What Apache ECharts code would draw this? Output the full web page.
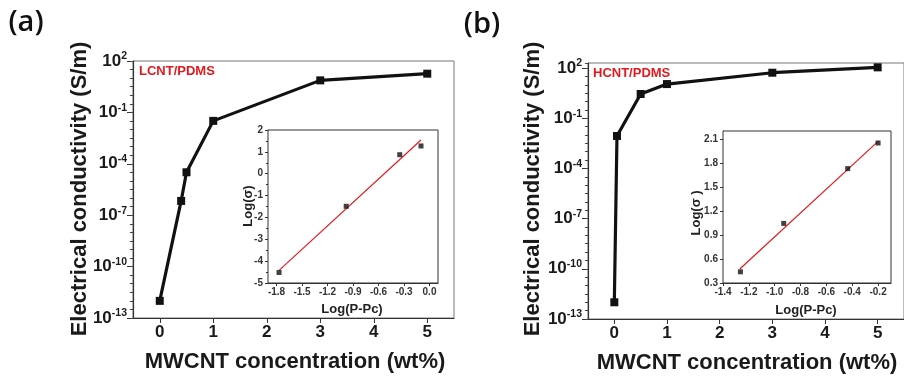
<!DOCTYPE html>
<html>
<head>
<meta charset="utf-8">
<script src="https://cdn.jsdelivr.net/npm/echarts@6/dist/echarts.min.js"></script>
<style>
  html, body { margin: 0; padding: 0; background: #fff; }
  #chart { width: 904px; height: 378px; }
</style>
</head>
<body>
<div id="chart"></div>
<script>
// ---- Conductivity vs. MWCNT loading (S/m) ----
const concA  = [0, 0.4, 0.5, 1, 3, 5];
const sigmaA = [1e-12, 6.8e-7, 3.2e-5, 0.032, 7.4, 18.2];
const concB  = [0, 0.05, 0.5, 1, 3, 5];
const sigmaB = [1e-12, 0.0087, 2.8, 11, 52.5, 110];

// ---- Percolation scaling: Log(sigma) vs Log(P-Pc) ----
const logPPcA   = [-1.77, -0.98, -0.35, -0.10];
const logSigmaA = [-4.52, -1.49, 0.87, 1.27];
const fitXA = [-1.77, -0.10];
const fitYA = [-4.42, 1.54];

const logPPcB   = [-1.265, -0.93, -0.435, -0.20];
const logSigmaB = [0.44, 1.045, 1.73, 2.05];
const fitXB = [-1.27, -0.20];
const fitYB = [0.475, 2.07];

// ---- Tick labels ----
const mainXTicks = [0, 1, 2, 3, 4, 5];
const mainYTicks = [1e-13, 1e-10, 1e-7, 1e-4, 1e-1, 1e2];
const insetAXTicks = [-1.8, -1.5, -1.2, -0.9, -0.6, -0.3, 0];
const insetBXTicks = [-1.4, -1.2, -1.0, -0.8, -0.6, -0.4, -0.2];
const insetBYTicks = [0.3, 0.6, 0.9, 1.2, 1.5, 1.8, 2.1];

const pairs = (xs, ys) => xs.map((x, i) => [x, ys[i]]);

const SANS = '"Liberation Sans", Arial, sans-serif';
const NARROW = '"Liberation Sans Narrow", "Liberation Sans", Arial, sans-serif';
const INK = '#1a1a1a';
const RED = '#e3191e';

function mainX(gridIndex) {
  return {
    type: 'value', gridIndex, min: -0.5, max: 5.5,
    axisLine: { show: true, onZero: false, lineStyle: { color: '#333', width: 1.2 } },
    axisTick: { show: true, inside: false, length: 5, customValues: mainXTicks, lineStyle: { color: '#333' } },
    axisLabel: { customValues: mainXTicks, margin: 6, fontSize: 17, fontWeight: 'bold', fontFamily: SANS, color: INK },
    splitLine: { show: false }
  };
}

function mainY(gridIndex, maxVal) {
  return {
    type: 'log', logBase: 10, gridIndex, position: 'left', min: 1e-13, max: maxVal,
    axisLine: { show: true, onZero: false, lineStyle: { color: '#333', width: 1.2 } },
    axisTick: { show: true, inside: false, length: 6, customValues: mainYTicks, lineStyle: { color: '#333' } },
    axisLabel: {
      customValues: mainYTicks, margin: 6,
      formatter: v => '{b|10}{s|' + Math.round(Math.log10(v)) + '}',
      rich: {
        b: { fontSize: 17, fontWeight: 'bold', fontFamily: SANS, color: INK, lineHeight: 20 },
        s: { fontSize: 10.5, fontWeight: 'bold', fontFamily: SANS, color: INK, verticalAlign: 'top', lineHeight: 12 }
      }
    },
    splitLine: { show: false }
  };
}

// decade sub-ticks drawn on the exponent scale of the same grid
function minorY(gridIndex, maxExp) {
  return {
    type: 'value', gridIndex, position: 'left', offset: 0, min: -13, max: maxExp, interval: 0.5,
    axisLine: { show: false, onZero: false },
    axisTick: { show: true, inside: false, length: 3, lineStyle: { color: '#444' } },
    axisLabel: { show: false },
    splitLine: { show: false }
  };
}

const insetLabel = { fontSize: 10, fontWeight: 'bold', fontFamily: NARROW, color: '#333' };

const option = {
  animation: false,
  backgroundColor: '#fff',
  grid: [
    { left: 133, top: 61, width: 321, height: 257, show: true, borderColor: '#777', borderWidth: 1, backgroundColor: 'transparent' },
    { left: 588, top: 63, width: 318, height: 256, show: true, borderColor: '#777', borderWidth: 1, backgroundColor: 'transparent' },
    { left: 268, top: 130, width: 170, height: 153, show: true, borderColor: '#333', borderWidth: 1, backgroundColor: '#fff', z: 3 },
    { left: 723, top: 131, width: 168, height: 152, show: true, borderColor: '#333', borderWidth: 1, backgroundColor: '#fff', z: 3 }
  ],
  xAxis: [
    mainX(0),
    mainX(1),
    {
      type: 'value', gridIndex: 2, min: -1.9, max: 0.1,
      axisLine: { show: true, onZero: false, lineStyle: { color: '#333' } },
      axisTick: { show: true, length: 3, customValues: insetAXTicks, lineStyle: { color: '#333' } },
      axisLabel: Object.assign({ customValues: insetAXTicks, margin: 4, formatter: v => v.toFixed(1) }, insetLabel),
      splitLine: { show: false }
    },
    {
      type: 'value', gridIndex: 3, min: -1.4, max: -0.1,
      axisLine: { show: true, onZero: false, lineStyle: { color: '#333' } },
      axisTick: { show: true, length: 3, customValues: insetBXTicks, lineStyle: { color: '#333' } },
      axisLabel: Object.assign({ customValues: insetBXTicks, margin: 4, formatter: v => v.toFixed(1) }, insetLabel),
      splitLine: { show: false }
    }
  ],
  yAxis: [
    mainY(0, 100),
    mainY(1, 200),
    {
      type: 'value', gridIndex: 2, min: -5, max: 2, interval: 1,
      axisLine: { show: true, onZero: false, lineStyle: { color: '#333' } },
      axisTick: { show: true, length: 3, lineStyle: { color: '#333' } },
      minorTick: { show: true, splitNumber: 2, length: 2, lineStyle: { color: '#333' } },
      axisLabel: Object.assign({ margin: 5 }, insetLabel),
      splitLine: { show: false }
    },
    {
      type: 'value', gridIndex: 3, min: 0.3, max: 2.2,
      axisLine: { show: true, onZero: false, lineStyle: { color: '#333' } },
      axisTick: { show: true, length: 3, customValues: insetBYTicks, lineStyle: { color: '#333' } },
      axisLabel: Object.assign({ customValues: insetBYTicks, margin: 5, formatter: v => v.toFixed(1) }, insetLabel),
      splitLine: { show: false }
    },
    minorY(0, 2),
    minorY(1, 2.3)
  ],
  series: [
    {
      type: 'line', xAxisIndex: 0, yAxisIndex: 0, data: pairs(concA, sigmaA),
      symbol: 'rect', symbolSize: 8, lineStyle: { color: '#111', width: 3.2 }, itemStyle: { color: '#111' }
    },
    {
      type: 'line', xAxisIndex: 1, yAxisIndex: 1, data: pairs(concB, sigmaB),
      symbol: 'rect', symbolSize: 8, lineStyle: { color: '#111', width: 3.2 }, itemStyle: { color: '#111' }
    },
    {
      type: 'line', xAxisIndex: 2, yAxisIndex: 2, data: pairs(fitXA, fitYA), z: 4,
      symbol: 'none', lineStyle: { color: RED, width: 1.2 }
    },
    {
      type: 'scatter', xAxisIndex: 2, yAxisIndex: 2, data: pairs(logPPcA, logSigmaA), z: 5,
      symbol: 'rect', symbolSize: 5, itemStyle: { color: '#111' }
    },
    {
      type: 'line', xAxisIndex: 3, yAxisIndex: 3, data: pairs(fitXB, fitYB), z: 4,
      symbol: 'none', lineStyle: { color: RED, width: 1.2 }
    },
    {
      type: 'scatter', xAxisIndex: 3, yAxisIndex: 3, data: pairs(logPPcB, logSigmaB), z: 5,
      symbol: 'rect', symbolSize: 5, itemStyle: { color: '#111' }
    }
  ],
  graphic: [
    { type: 'text', x: 26, y: 23, style: { text: '(a)', font: '600 29px "Open Sans", "Noto Sans", sans-serif', fill: '#111', textAlign: 'center', textVerticalAlign: 'middle', align: 'center', verticalAlign: 'middle' } },
    { type: 'text', x: 482, y: 25, style: { text: '(b)', font: '600 29px "Open Sans", "Noto Sans", sans-serif', fill: '#111', textAlign: 'center', textVerticalAlign: 'middle', align: 'center', verticalAlign: 'middle' } },

    { type: 'text', x: 80, y: 189, rotation: Math.PI / 2, style: { text: 'Electrical conductivity (S/m)', font: 'bold 22px ' + SANS, fill: INK, textAlign: 'center', textVerticalAlign: 'middle', align: 'center', verticalAlign: 'middle' } },
    { type: 'text', x: 533, y: 189, rotation: Math.PI / 2, style: { text: 'Electrical conductivity (S/m)', font: 'bold 22px ' + SANS, fill: INK, textAlign: 'center', textVerticalAlign: 'middle', align: 'center', verticalAlign: 'middle' } },

    { type: 'text', x: 295, y: 362, style: { text: 'MWCNT concentration (wt%)', font: 'bold 22px ' + SANS, fill: INK, textAlign: 'center', textVerticalAlign: 'middle', align: 'center', verticalAlign: 'middle' } },
    { type: 'text', x: 747, y: 363, style: { text: 'MWCNT concentration (wt%)', font: 'bold 22px ' + SANS, fill: INK, textAlign: 'center', textVerticalAlign: 'middle', align: 'center', verticalAlign: 'middle' } },

    { type: 'text', x: 139, y: 71, style: { text: 'LCNT/PDMS', font: 'bold 13px ' + SANS, fill: RED, textAlign: 'left', textVerticalAlign: 'middle', align: 'left', verticalAlign: 'middle' } },
    { type: 'text', x: 593, y: 73, style: { text: 'HCNT/PDMS', font: 'bold 13px ' + SANS, fill: RED, textAlign: 'left', textVerticalAlign: 'middle', align: 'left', verticalAlign: 'middle' } },

    { type: 'text', x: 352, y: 309, style: { text: 'Log(P-Pc)', font: 'bold 13px ' + NARROW, fill: '#222', textAlign: 'center', textVerticalAlign: 'middle', align: 'center', verticalAlign: 'middle' } },
    { type: 'text', x: 806, y: 310, style: { text: 'Log(P-Pc)', font: 'bold 13px ' + NARROW, fill: '#222', textAlign: 'center', textVerticalAlign: 'middle', align: 'center', verticalAlign: 'middle' } },
    { type: 'text', x: 248, y: 206, rotation: Math.PI / 2, style: { text: 'Log(σ)', font: 'bold 13px ' + NARROW, fill: '#222', textAlign: 'center', textVerticalAlign: 'middle', align: 'center', verticalAlign: 'middle' } },
    { type: 'text', x: 696, y: 213, rotation: Math.PI / 2, style: { text: 'Log(σ )', font: 'bold 13px ' + NARROW, fill: '#222', textAlign: 'center', textVerticalAlign: 'middle', align: 'center', verticalAlign: 'middle' } }
  ]
};

const chart = echarts.init(document.getElementById('chart'), null, { renderer: 'canvas' });
chart.setOption(option);
</script>
</body>
</html>
